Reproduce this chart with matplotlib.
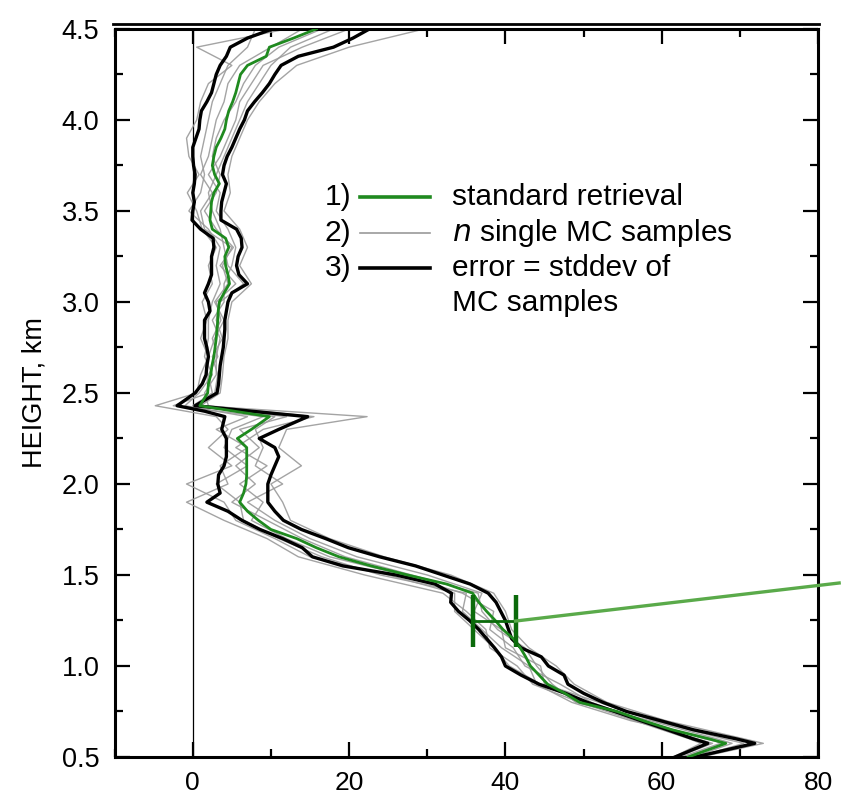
import numpy as np
import matplotlib.pyplot as plt
from matplotlib.lines import Line2D
from matplotlib.ticker import MultipleLocator

plt.rcParams['font.family'] = ['Liberation Sans', 'DejaVu Sans']

# heights (km) for the retrieval and the +/- error profiles
heights = [4.50, 4.45, 4.40, 4.35, 4.30, 4.25, 4.20, 4.15, 4.10, 4.05,
           4.00, 3.95, 3.90, 3.85, 3.80, 3.75, 3.70, 3.65, 3.60, 3.55,
           3.50, 3.45, 3.40, 3.35, 3.30, 3.25, 3.20, 3.15, 3.10, 3.05,
           3.00, 2.95, 2.90, 2.85, 2.80, 2.75, 2.70, 2.65, 2.60, 2.55,
           2.50, 2.43, 2.40, 2.37, 2.30, 2.25, 2.20, 2.15, 2.10, 2.05,
           2.00, 1.95, 1.90, 1.85, 1.80, 1.75, 1.70, 1.65, 1.60, 1.55,
           1.50, 1.45, 1.40, 1.35, 1.30, 1.25, 1.20, 1.15, 1.10, 1.05,
           1.00, 0.95, 0.90, 0.85, 0.80, 0.75, 0.70, 0.65, 0.60, 0.575,
           0.50]

standard = [15.8, 12.9, 9.8, 9.4, 7.0, 6.1, 5.8, 5.5, 5.1, 4.6,
            4.3, 4.1, 3.6, 3.0, 2.7, 2.5, 2.8, 3.4, 2.7, 2.4,
            2.3, 2.2, 2.5, 4.2, 4.6, 4.1, 4.2, 4.5, 4.7, 4.0,
            3.4, 3.25, 3.2, 3.1, 3.0, 2.85, 2.7, 2.45, 2.3, 2.0,
            1.9, 0.9, 5.3, 9.8, 7.5, 5.7, 6.9, 6.9, 6.9, 6.9,
            6.8, 6.5, 6.0, 7.0, 8.4, 10.0, 13.3, 15.8, 18.7, 22.8,
            27.5, 32.5, 35.8, 36.6, 37.6, 38.7, 39.7, 41.0, 41.9, 42.6,
            43.2, 44.3, 45.4, 47.6, 49.5, 54.3, 57.6, 61.3, 66.0, 68.2,
            63.4]

err_low = [10.2, 7.0, 4.8, 4.3, 3.5, 3.0, 2.7, 2.4, 1.8, 1.1,
           0.9, 0.8, 0.4, 0.0, 0.0, 0.1, 0.3, 0.2, 0.0, 0.2,
           0.0, -0.1, 1.0, 2.6, 2.7, 2.4, 2.4, 2.4, 2.0, 1.5,
           2.0, 2.2, 1.5, 1.5, 1.5, 1.8, 2.0, 1.8, 1.7, 1.2,
           0.3, -2.0, 1.5, 4.1, 3.7, 4.3, 4.3, 4.3, 4.0, 3.3,
           3.2, 3.5, 1.8, 4.5, 6.3, 8.6, 11.5, 14.0, 15.3, 19.2,
           26.0, 31.0, 33.1, 33.0, 34.0, 35.4, 36.6, 37.6, 38.6, 39.5,
           40.0, 42.0, 44.3, 47.7, 50.5, 54.0, 57.3, 60.7, 64.0, 65.9,
           61.7]

err_high = [22.6, 20.5, 18.0, 13.5, 11.3, 10.5, 9.8, 8.9, 7.9, 7.0,
            6.6, 6.0, 5.5, 5.0, 4.4, 4.0, 3.8, 4.3, 4.0, 3.7,
            3.6, 3.6, 5.6, 6.2, 6.3, 5.8, 5.6, 5.9, 7.0, 5.0,
            4.5, 4.3, 4.1, 4.1, 4.0, 3.9, 3.7, 3.5, 3.4, 3.3,
            3.1, 0.3, 7.5, 14.7, 11.0, 8.5, 10.5, 11.0, 10.5, 10.0,
            9.6, 9.6, 9.6, 10.5, 11.6, 13.9, 17.0, 19.9, 23.9, 28.5,
            32.0, 35.5, 37.8, 38.8, 39.4, 40.0, 40.4, 40.8, 42.0, 44.6,
            45.5, 47.5, 48.0, 50.0, 52.5, 55.5, 59.8, 64.0, 69.5, 71.9,
            64.3]

# heights (km) for the single Monte Carlo samples
heights_mc = [4.5, 4.4, 4.3, 4.2, 4.1, 4.0, 3.9, 3.8, 3.7, 3.6, 3.5,
              3.4, 3.3, 3.2, 3.1, 3.0, 2.9, 2.8, 2.7, 2.6, 2.5, 2.43,
              2.37, 2.3, 2.2, 2.1, 2.0, 1.9, 1.8, 1.7, 1.6, 1.5, 1.4,
              1.3, 1.2, 1.1, 1.0, 0.9, 0.8, 0.7, 0.6, 0.575, 0.5]

mc1 = [12.0, 0.5, 5.0, 2.0, 1.0, 0.5, -0.8, -0.5, 0.8, -0.7, 0.5,
       1.2, 3.0, 2.0, 2.5, 1.2, 1.8, 1.0, 2.0, 1.0, 0.5, -4.8,
       3.0, 4.5, 2.0, 5.0, -0.8, 4.0, 5.5, 10.5, 15.0, 25.0, 33.5,
       33.5, 36.0, 38.5, 40.5, 44.5, 50.0, 57.0, 64.5, 66.5, 62.0]
mc2 = [29.6, 20.0, 13.3, 10.5, 8.5, 7.0, 6.0, 5.0, 4.5, 4.8, 4.0,
       6.0, 7.0, 6.0, 7.5, 5.0, 4.5, 4.5, 4.0, 3.8, 3.5, 1.0,
       22.3, 12.0, 11.0, 13.9, 10.0, 11.5, 12.5, 17.5, 24.5, 33.0, 38.5,
       40.0, 40.8, 43.0, 46.5, 48.8, 53.0, 60.5, 70.5, 73.0, 65.0]
mc3 = [16.5, 11.0, 8.0, 6.5, 5.5, 4.0, 3.0, 2.5, 3.5, 3.0, 1.5,
       3.0, 5.2, 3.5, 5.5, 3.0, 3.6, 2.5, 3.2, 2.0, 2.5, 0.0,
       12.0, 6.0, 8.5, 5.5, 8.0, 5.0, 9.5, 14.0, 19.5, 28.0, 36.5,
       37.0, 39.0, 42.5, 44.0, 46.0, 49.0, 58.5, 67.0, 69.0, 64.0]
mc4 = [20.0, 14.0, 9.0, 7.5, 6.0, 5.5, 4.5, 3.5, 2.0, 3.5, 3.0,
       4.5, 5.5, 5.0, 4.0, 4.0, 2.5, 3.5, 3.0, 3.0, 1.5, 2.0,
       15.5, 9.0, 5.5, 9.5, 6.0, 9.0, 7.5, 12.0, 17.5, 27.0, 34.5,
       38.5, 38.0, 41.0, 42.5, 47.0, 51.0, 57.5, 65.5, 68.0, 63.0]
mc5 = [8.0, 7.0, 4.5, 3.5, 2.5, 2.0, 1.5, 1.0, 1.5, 1.0, -0.5,
       2.0, 3.5, 3.0, 3.5, 2.5, 2.0, 2.0, 1.5, 2.5, 0.8, -1.0,
       7.0, 3.0, 7.0, 3.5, 4.5, -0.8, 4.0, 9.5, 13.5, 22.0, 32.0,
       35.0, 37.5, 38.0, 41.5, 43.5, 49.5, 56.5, 63.5, 65.0, 61.5]
mc6 = [18.0, 12.5, 10.0, 8.5, 7.0, 6.0, 5.0, 4.0, 3.0, 2.0, 2.5,
       3.5, 4.0, 4.5, 6.5, 3.5, 3.0, 3.8, 2.5, 3.2, 2.8, 0.5,
       10.5, 8.0, 9.0, 8.0, 11.5, 7.0, 10.5, 15.0, 21.0, 30.0, 37.0,
       36.0, 39.5, 40.0, 44.5, 45.0, 52.0, 59.0, 68.0, 70.5, 64.5]
mc7 = [14.0, 10.0, 6.0, 4.5, 4.0, 3.0, 2.5, 2.0, 1.0, 2.5, 1.0,
       1.5, 5.0, 3.8, 4.5, 2.8, 4.0, 2.8, 2.0, 1.8, 2.0, -2.5,
       9.0, 5.0, 4.0, 7.0, 3.0, 6.0, 6.5, 11.0, 16.5, 24.0, 35.0,
       34.5, 37.0, 39.5, 43.0, 44.0, 48.5, 56.0, 66.5, 67.5, 62.5]
mc_samples = [mc1, mc2, mc3, mc4, mc5, mc6, mc7]

# example error bar and the pointer leaving the frame
bar_x, bar_h, bar_err = 38.6, 1.247, 2.7
pointer_x = [41.3, 82.7]
pointer_h = [1.247, 1.456]

legend_labels = ['standard retrieval', 'single MC samples',
                 'error = stddev of', 'MC samples']

green = '#1f8a1f'
gray = '#9a9a9a'

fig = plt.figure(figsize=(8.41, 7.96), dpi=100)
ax = fig.add_axes([0.1363, 0.049, 0.8364, 0.9146])

ax.axvline(0, color='black', linewidth=0.9, zorder=1)

for s in mc_samples:
    ax.plot(s, heights_mc, color=gray, linewidth=1.0, alpha=0.9, zorder=2)
ax.plot(err_low, heights, color='black', linewidth=2.4, zorder=3)
ax.plot(err_high, heights, color='black', linewidth=2.4, zorder=3)
ax.plot(standard, heights, color=green, linewidth=2.0, zorder=4)

ax.errorbar(bar_x, bar_h, xerr=bar_err, color='#0b6a0b', elinewidth=2.0,
            capsize=19, capthick=3.2, zorder=5)
ax.plot(pointer_x, pointer_h, color='#5aaa4a', linewidth=2.4,
        clip_on=False, zorder=5)

ax.set_xlim(-10, 80)
ax.set_ylim(0.5, 4.5)
ax.xaxis.set_major_locator(MultipleLocator(20))
ax.xaxis.set_minor_locator(MultipleLocator(10))
ax.yaxis.set_major_locator(MultipleLocator(0.5))
ax.yaxis.set_minor_locator(MultipleLocator(0.25))
ax.yaxis.set_major_formatter(plt.FormatStrFormatter('%.1f'))

ax.tick_params(which='both', direction='in', top=True, right=True, width=1.6)
ax.tick_params(which='major', length=11)
ax.tick_params(which='minor', length=6)
ax.tick_params(axis='x', pad=10, labelsize=19)
ax.tick_params(axis='y', pad=11, labelsize=19.5)

for sp in ax.spines.values():
    sp.set_linewidth(2.2)

ax.set_ylabel('HEIGHT, km', fontsize=19.5, labelpad=10)

# legend drawn by hand
rows = [0.769, 0.720, 0.672, 0.624]
styles = [dict(color=green, linewidth=2.6),
          dict(color=gray, linewidth=1.2),
          dict(color='black', linewidth=2.6)]
for i, st in enumerate(styles):
    ax.text(0.299, rows[i], f'{i + 1})', transform=ax.transAxes, fontsize=21.5,
            va='center', ha='left')
    ax.add_line(Line2D([0.349, 0.449], [rows[i], rows[i]],
                       transform=ax.transAxes, **st))
ax.text(0.480, rows[0], legend_labels[0], transform=ax.transAxes,
        fontsize=21.5, va='center')
ax.text(0.480, rows[1], '$\\it{n}$ ' + legend_labels[1], transform=ax.transAxes,
        fontsize=21.5, va='center')
ax.text(0.480, rows[2], legend_labels[2], transform=ax.transAxes,
        fontsize=21.5, va='center')
ax.text(0.480, rows[3], legend_labels[3], transform=ax.transAxes,
        fontsize=21.5, va='center')

# extra frame line above the plot
fig.add_artist(Line2D([113 / 841, 819 / 841], [1 - 24 / 796, 1 - 24 / 796],
                      transform=fig.transFigure, color='black', linewidth=2.0))

fig.savefig('out.png', dpi=100)
